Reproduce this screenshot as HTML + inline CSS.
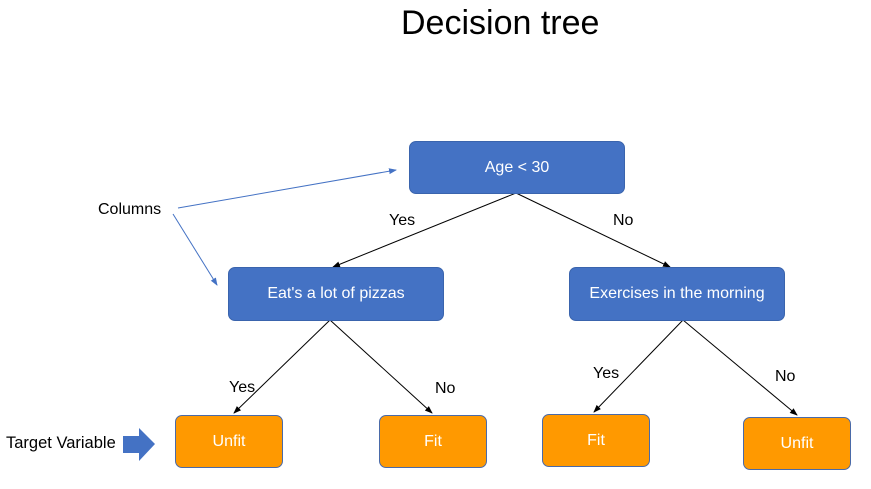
<!DOCTYPE html>
<html><head><style>
body{margin:0;width:871px;height:489px;background:#fff;position:relative;overflow:hidden;font-family:"Liberation Sans",sans-serif}
.b{position:absolute;box-sizing:border-box;display:flex;align-items:center;justify-content:center;color:#fff;font-size:16px;border-radius:7px}
.bl{background:#4472C4;border:1px solid #3a64ad}
.or{background:#FF9900;border:1px solid #4a6aa8}
.t{position:absolute;font-size:16px;color:#000}
</style></head><body>
<div class="t" style="left:401px;top:4px;font-size:34px">Decision tree</div>
<svg width="871" height="489" style="position:absolute;left:0;top:0">
<defs>
<marker id="a" markerWidth="8" markerHeight="8" refX="7" refY="4" orient="auto" markerUnits="userSpaceOnUse"><path d="M0,1 L8,4 L0,7z" fill="#000"/></marker>
<marker id="ab" markerWidth="8" markerHeight="8" refX="7" refY="4" orient="auto" markerUnits="userSpaceOnUse"><path d="M0,1 L8,4 L0,7z" fill="#4472C4"/></marker>
</defs>
<g stroke="#000" stroke-width="1" marker-end="url(#a)">
<line x1="516" y1="193" x2="333" y2="267"/>
<line x1="516" y1="193" x2="670" y2="267"/>
<line x1="330" y1="320" x2="234" y2="413"/>
<line x1="330" y1="320" x2="432" y2="413"/>
<line x1="683" y1="320" x2="594" y2="412"/>
<line x1="683" y1="320" x2="797" y2="415"/>
</g>
<g stroke="#4472C4" stroke-width="1" marker-end="url(#ab)">
<line x1="178" y1="208" x2="396" y2="170"/>
<line x1="173" y1="214" x2="217" y2="285"/>
</g>
<path d="M123,436 L139,436 L139,428 L155,444 L139,461 L139,453 L123,453z" fill="#4472C4"/>
</svg>
<div class="b bl" style="left:409px;top:141px;width:216px;height:53px">Age &lt; 30</div>
<div class="b bl" style="left:228px;top:267px;width:216px;height:54px">Eat's a lot of pizzas</div>
<div class="b bl" style="left:569px;top:267px;width:216px;height:54px">Exercises in the morning</div>
<div class="b or" style="left:175px;top:415px;width:108px;height:53px">Unfit</div>
<div class="b or" style="left:379px;top:415px;width:108px;height:53px">Fit</div>
<div class="b or" style="left:542px;top:414px;width:108px;height:53px">Fit</div>
<div class="b or" style="left:743px;top:417px;width:108px;height:53px">Unfit</div>
<div class="t" style="left:98px;top:201px">Columns</div>
<div class="t" style="left:389px;top:212px">Yes</div>
<div class="t" style="left:613px;top:212px">No</div>
<div class="t" style="left:229px;top:379px">Yes</div>
<div class="t" style="left:435px;top:380px">No</div>
<div class="t" style="left:593px;top:365px">Yes</div>
<div class="t" style="left:775px;top:368px">No</div>
<div class="t" style="left:6px;top:434px;font-size:16.5px">Target Variable</div>
</body></html>
